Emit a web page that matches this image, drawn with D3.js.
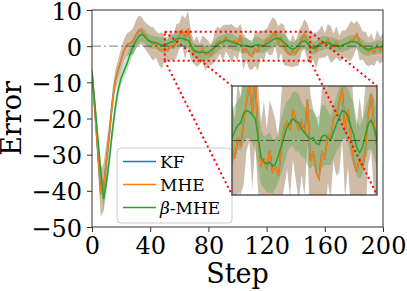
<!DOCTYPE html>
<html>
<head>
<meta charset="utf-8">
<script src="https://cdn.jsdelivr.net/npm/d3@7"></script>
<style>
  body { margin: 0; background: #fff; }
  svg { display: block; }
  text { font-family: "DejaVu Serif", serif; }
</style>
</head>
<body>
<svg id="chart" width="407" height="291"></svg>
<script>
/*global d3
 */
// every second step, 0..200
const steps = d3.range(0, 201, 2);
const xTicks = [0, 40, 80, 120, 160, 200];
const yTicks = [-50, -40, -30, -20, -10, 0, 10];
const zoomSteps = [50, 150];
const zoomErr = [-4, 4];

const mheMean = [
  -7, -18, -29, -40.5, -39, -31.3, -24, -15.5, -9.5, -6.5, -3.8, -1.2, 0.4, 0.8, 1.2, 3.0, 4.4, 4.3, 3.2, 2.2, 1.3,
  0.6, 0.5, -0.9, -1.2, -0.6, -1.3, 0.2, -0.4, 1.4, 2.8,
  4.3, 2.0, 4.8, 0.2, -1.8, -1.4, -2.1, -0.7, -2.3, -1.9,
  -2.6, -0.6, 1.0, 1.4, 0.8, 2.3, 1.5, 0.8, 1.4, 0.5,
  3.0, -1.5, -0.8, -2.3, -2.8, -0.8, -1.4, 0.4, 0.1, 1.6,
  1.9, 2.8, 3.8, 0.6, 2.3, 0.3, -1.6, -2.3, -1.3, -2.0,
  -0.7, 2.0, 3.3, 1.2, -0.6, 0.1, -1.2, 0.5, 1.3, 0.2,
  1.8, 0.5, -0.3, 1.2, -0.6, 0.3, 0.6, 0.8, 1.5, 1.9,
  3.3, 1.0, 0.2, -0.5, -1.6, -0.8, -2.0, 0.3, -1.2, -0.2
];
const kfMean = [
  -7, -18, -29.2, -40.6, -39, -31.2, -24, -15.4, -9.5, -6.6, -3.8, -1.2, 0.4, 0.8, 1.3, 3.0, 4.4, 4.3, 3.2, 2.2, 1.3,
  0.6, 0.5, -0.9, -1.2, -0.6, -1.3, 0.2, -0.4, 1.4, 2.8,
  4.3, 2.0, 4.8, 0.2, -1.8, -1.4, -2.1, -0.7, -2.3, -1.9,
  -2.6, -0.6, 1.0, 1.4, 0.8, 2.3, 1.5, 0.8, 1.4, 0.5,
  3.0, -1.5, -0.8, -2.3, -2.8, -0.8, -1.4, 0.4, 0.1, 1.6,
  1.9, 2.8, 3.8, 0.6, 2.3, 0.3, -1.6, -2.3, -1.3, -2.0,
  -0.7, 2.0, 3.3, 1.2, -0.6, 0.1, -1.2, 0.5, 1.3, 0.2,
  1.8, 0.5, -0.3, 1.2, -0.6, 0.3, 0.6, 0.8, 1.5, 1.9,
  3.3, 1.0, 0.2, -0.5, -1.6, -0.8, -2.0, 0.3, -1.2, -0.2
];
const betaMean = [
  -7, -16, -25.5, -34.5, -42.3, -37.5, -31, -23.5, -17, -12, -8.8, -6.8, -4.9, -2.5, -0.4, 1.3, 2.6, 3.3, 2.8, 1.8, 1.3,
  1.1, 1.0, 0.6, 0.3, 0.2, 0.7, 1.1, 1.3, 2.0, 2.2,
  2.1, 1.9, 1.6, 0.3, -1.2, -1.6, -1.7, -1.6, -1.9, -1.7,
  -1.1, -0.4, 0.3, 1.0, 1.3, 1.6, 1.4, 1.3, 0.8, 0.6,
  0.3, 0.1, 0.2, -0.2, -0.3, 0.3, 0.4, 0.2, 0.0, 0.6,
  1.2, 1.7, 2.2, 2.1, 1.8, 1.0, 0.4, -0.5, -0.9, -0.5,
  0.4, 1.2, 1.5, 0.9, 0.1, -0.6, -0.3, 0.4, 0.8, 1.0,
  1.0, 0.6, 0.3, 0.2, 0.0, 0.2, 0.6, 0.9, 1.2, 1.3,
  1.1, 0.5, -0.2, -0.7, -0.9, -0.6, -0.5, -0.2, -0.3, -0.1
];
const mheStd = [
  1.5, 3, 4, 6.5, 6.5, 4.5, 3.5, 3, 2.8, 2.8, 3, 3, 3, 3.2, 3.5, 3.8, 4, 3.8, 3.5, 3.8, 4,
  4.5, 3.6, 4.2, 5.0, 3.2, 2.8, 4.0, 3.4, 4.6, 3.5,
  4.2, 5.5, 4.8, 3.8, 3.0, 4.2, 2.8, 3.6, 4.5, 3.2,
  2.6, 3.8, 4.4, 3.4, 4.8, 3.6, 4.2, 5.2, 3.8, 4.4,
  3.2, 4.8, 3.0, 4.0, 3.6, 4.6, 5.2, 3.4, 4.2, 3.0,
  4.4, 5.0, 3.6, 4.8, 4.0, 5.4, 3.8, 3.2, 4.4, 3.4,
  4.6, 3.6, 4.0, 5.0, 4.2, 3.6, 4.8, 3.8, 4.4, 3.2,
  4.2, 5.0, 3.6, 4.2, 3.4, 4.0, 3.6, 4.6, 5.4, 4.2,
  3.6, 4.8, 3.8, 4.4, 3.8, 4.2, 3.4, 4.0, 3.6, 3.8
];
const kfStd = [
  1.6, 3.1, 4.2, 6.6, 6.6, 4.6, 3.6, 3.1, 2.9, 2.9, 3.1, 3.2, 3.1, 3.3, 3.6, 3.9, 4.1, 3.9, 3.7, 3.9, 4.2,
  4.7, 3.7, 4.4, 5.1, 3.4, 2.9, 4.1, 3.6, 4.7, 3.6,
  4.4, 5.6, 4.9, 4.0, 3.1, 4.3, 3.0, 3.7, 4.6, 3.4,
  2.7, 4.0, 4.5, 3.5, 5.0, 3.7, 4.4, 5.3, 3.9, 4.6,
  3.3, 5.0, 3.1, 4.1, 3.8, 4.7, 5.4, 3.5, 4.3, 3.2,
  4.5, 5.2, 3.7, 4.9, 4.2, 5.5, 3.9, 3.4, 4.5, 3.5,
  4.8, 3.7, 4.1, 5.2, 4.3, 3.7, 5.0, 3.9, 4.5, 3.4,
  4.3, 5.1, 3.8, 4.3, 3.5, 4.2, 3.7, 4.7, 5.6, 4.3,
  3.7, 5.0, 3.9, 4.5, 4.0, 4.3, 3.5, 4.2, 3.7, 3.9
];
const betaStd = [
  1, 2, 2.5, 3, 3.2, 3, 2.8, 2.5, 2.4, 2.2, 2, 2, 2, 2, 2, 2, 2, 2, 1.9, 1.8, 1.8,
  1.8, 1.7, 1.9, 2.0, 2.1, 1.9, 1.8, 2.0, 2.2, 2.0,
  1.9, 2.1, 2.3, 2.2, 2.0, 1.9, 2.1, 2.2, 2.0, 1.8,
  1.9, 2.0, 2.1, 1.9, 1.8, 2.0, 2.2, 2.1, 2.0, 1.9,
  2.1, 2.2, 2.0, 1.9, 2.1, 2.3, 2.2, 2.0, 1.8, 1.9,
  2.0, 2.2, 2.1, 1.9, 2.0, 2.2, 2.3, 2.1, 1.9, 2.0,
  1.8, 1.9, 2.1, 2.2, 2.0, 1.8, 1.7, 1.9, 2.0, 1.8,
  1.7, 1.9, 2.0, 1.8, 1.7, 1.8, 1.9, 2.0, 1.8, 1.7,
  1.8, 1.9, 2.0, 1.9, 1.8, 1.7, 1.8, 1.9, 1.8, 1.7
];

const series = [
  {name: "KF", mean: kfMean, std: kfStd, color: "#1f77b4"},
  {name: "MHE", mean: mheMean, std: mheStd, color: "#ff7f0e"},
  {name: "β-MHE", mean: betaMean, std: betaStd, color: "#2ca02c"}
];

const svg = d3.select("#chart");
const plot = {left: 92, right: 383, top: 10, bottom: 227};
const inset = {left: 232, right: 377, top: 86, bottom: 195};

const x = d3.scaleLinear().domain([0, 200]).range([plot.left, plot.right]);
const y = d3.scaleLinear().domain([-50, 10]).range([plot.bottom, plot.top]);
const ix = d3.scaleLinear().domain(zoomSteps).range([inset.left, inset.right]);
const iy = d3.scaleLinear().domain(zoomErr).range([inset.bottom, inset.top]);

const defs = svg.append("defs");
defs.append("clipPath").attr("id", "clipMain").append("rect")
  .attr("x", plot.left).attr("y", plot.top)
  .attr("width", plot.right - plot.left).attr("height", plot.bottom - plot.top);
defs.append("clipPath").attr("id", "clipInset").append("rect")
  .attr("x", inset.left).attr("y", inset.top)
  .attr("width", inset.right - inset.left).attr("height", inset.bottom - inset.top);

function drawSeries(group, xs, ys) {
  series.forEach(s => {
    let area = d3.area()
      .x((d, i) => xs(steps[i]))
      .y0((d, i) => ys(s.mean[i] - s.std[i]))
      .y1((d, i) => ys(s.mean[i] + s.std[i]));
    group.append("path")
      .attr("d", area(s.mean))
      .attr("fill", s.color)
      .attr("fill-opacity", 0.3);
  });
  series.forEach(s => {
    let line = d3.line()
      .x((d, i) => xs(steps[i]))
      .y(d => ys(d));
    group.append("path")
      .attr("d", line(s.mean))
      .attr("fill", "none")
      .attr("stroke", s.color)
      .attr("stroke-width", 1.5);
  });
  group.append("line")
    .attr("x1", xs.range()[0]).attr("x2", xs.range()[1])
    .attr("y1", ys(0)).attr("y2", ys(0))
    .attr("stroke", "#000")
    .attr("stroke-opacity", 0.5)
    .attr("stroke-width", 1)
    .attr("stroke-dasharray", "9,3,2,3");
}

// main axes
let mainG = svg.append("g").attr("clip-path", "url(#clipMain)");
drawSeries(mainG, x, y);

// zoom window marker
svg.append("rect")
  .attr("x", x(zoomSteps[0])).attr("y", y(zoomErr[1]))
  .attr("width", x(zoomSteps[1]) - x(zoomSteps[0]))
  .attr("height", y(zoomErr[0]) - y(zoomErr[1]))
  .attr("fill", "none")
  .attr("stroke", "red")
  .attr("stroke-width", 2)
  .attr("stroke-dasharray", "2,3");

// frame and ticks
svg.append("rect")
  .attr("x", plot.left).attr("y", plot.top)
  .attr("width", plot.right - plot.left).attr("height", plot.bottom - plot.top)
  .attr("fill", "none").attr("stroke", "#333").attr("stroke-width", 1);

let xAxis = svg.append("g")
  .attr("transform", "translate(0," + plot.bottom + ")")
  .call(d3.axisBottom(x).tickValues(xTicks).tickSize(5).tickPadding(5).tickSizeOuter(0));
let yAxis = svg.append("g")
  .attr("transform", "translate(" + plot.left + ",0)")
  .call(d3.axisLeft(y).tickValues(yTicks).tickSize(5).tickPadding(5).tickSizeOuter(0));
[xAxis, yAxis].forEach(a => {
  a.select(".domain").remove();
  a.selectAll("line").attr("stroke", "#333");
  a.selectAll("text")
    .attr("font-family", "DejaVu Serif")
    .attr("font-size", 24)
    .attr("fill", "#000");
});
yAxis.selectAll("text").attr("dy", "0.38em");

svg.append("text")
  .attr("x", (plot.left + plot.right) / 2).attr("y", 283)
  .attr("text-anchor", "middle")
  .attr("font-size", 27)
  .text("Step");
svg.append("text")
  .attr("transform", "translate(21," + ((plot.top + plot.bottom) / 2) + ") rotate(-90)")
  .attr("text-anchor", "middle")
  .attr("font-size", 27)
  .text("Error");

// legend
let legend = svg.append("g");
legend.append("rect")
  .attr("x", 117).attr("y", 148).attr("width", 115).attr("height", 75)
  .attr("rx", 4)
  .attr("fill", "#fff").attr("fill-opacity", 0.8)
  .attr("stroke", "#ccc").attr("stroke-width", 1);
series.forEach((s, i) => {
  let ly = 161.5 + i * 23;
  legend.append("line")
    .attr("x1", 123).attr("x2", 156).attr("y1", ly).attr("y2", ly)
    .attr("stroke", s.color).attr("stroke-width", 1.5);
  let t = legend.append("text")
    .attr("x", 160).attr("y", ly + 6)
    .attr("font-size", 17);
  if (s.name.startsWith("β")) {
    t.append("tspan").attr("font-style", "italic").text("β");
    t.append("tspan").text(s.name.slice(1));
  } else {
    t.text(s.name);
  }
});

// inset
svg.append("rect")
  .attr("x", inset.left).attr("y", inset.top)
  .attr("width", inset.right - inset.left).attr("height", inset.bottom - inset.top)
  .attr("fill", "#fff");
let insetG = svg.append("g").attr("clip-path", "url(#clipInset)");
drawSeries(insetG, ix, iy);
svg.append("rect")
  .attr("x", inset.left).attr("y", inset.top)
  .attr("width", inset.right - inset.left).attr("height", inset.bottom - inset.top)
  .attr("fill", "none").attr("stroke", "#333").attr("stroke-width", 1.2);

// connectors from zoom window corners to inset corners
let corners = [
  [zoomSteps[0], zoomErr[1], inset.left, inset.top],
  [zoomSteps[0], zoomErr[0], inset.left, inset.bottom],
  [zoomSteps[1], zoomErr[1], inset.right, inset.top],
  [zoomSteps[1], zoomErr[0], inset.right, inset.bottom]
];
corners.forEach(c => {
  svg.append("line")
    .attr("x1", x(c[0])).attr("y1", y(c[1]))
    .attr("x2", c[2]).attr("y2", c[3])
    .attr("stroke", "red")
    .attr("stroke-width", 2)
    .attr("stroke-dasharray", "2,3");
});
</script>
</body>
</html>
